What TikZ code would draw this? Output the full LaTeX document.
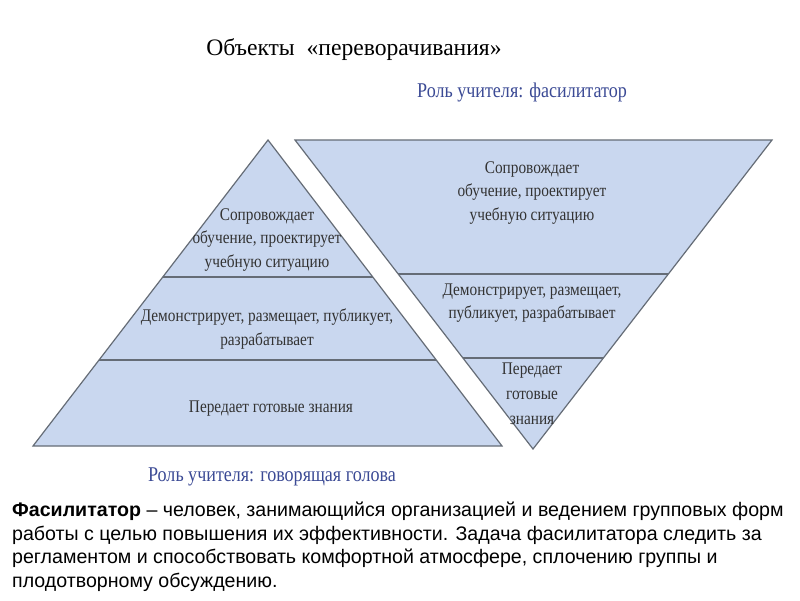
\documentclass[tikz,border=0pt]{standalone}
\usepackage{fontspec}
\setmainfont{Liberation Serif}
\newfontfamily\pyrfont[FakeStretch=0.86]{Liberation Serif}
\newfontfamily\bodysans{Liberation Sans}
\usetikzlibrary{calc}
\definecolor{pyrFill}{HTML}{C9D7EF}
\definecolor{pyrEdge}{HTML}{656C76}
\definecolor{pyrText}{HTML}{333333}
\definecolor{roleBlue}{HTML}{3B4A95}
\tikzset{
  layer/.style={fill=pyrFill,draw=pyrEdge,line width=1.2pt},
  divider/.style={draw=pyrEdge,line width=1.6pt},
  layertext/.style={font=\pyrfont\fontsize{17.8}{23.5}\selectfont,text=pyrText,align=center,inner sep=0pt},
  roletitle/.style={font=\pyrfont\fontsize{21}{24}\selectfont,text=roleBlue,inner sep=0pt},
}

\begin{document}
\begin{tikzpicture}[x=1pt,y=-1pt]
\useasboundingbox[fill=white] (0,0) rectangle (800,600);
\node[font=\fontsize{23.6}{28}\selectfont,inner sep=0pt] (title) at (354,50) {Объекты\hspace{0.5em}«переворачивания»};
% Пирамида: говорящая голова
\coordinate (A) at (268,140);
\coordinate (BL) at (33,446);
\coordinate (BR) at (502,446);
\draw[layer] (A) -- (BL) -- (BR) -- cycle;
\draw[divider] ($(A)!0.448!(BL)$) -- ($(A)!0.448!(BR)$);
\draw[divider] ($(A)!0.719!(BL)$) -- ($(A)!0.719!(BR)$);
\node[layertext] (lTop) at (267,240) {Сопровождает\\обучение, проектирует\\учебную ситуацию};
\node[layertext] (lMid) at (267,329) {Демонстрирует, размещает, публикует,\\разрабатывает};
\node[layertext] (lLow) at (271,409) {Передает готовые знания};
\node[roletitle] (lRole) at (272,477) {Роль учителя: говорящая голова};
% Перевёрнутая пирамида: фасилитатор
\coordinate (TL) at (295,140);
\coordinate (TR) at (772,140);
\coordinate (B) at (533,449);
\draw[layer] (TL) -- (TR) -- (B) -- cycle;
\draw[divider] ($(TL)!0.434!(B)$) -- ($(TR)!0.434!(B)$);
\draw[divider] ($(TL)!0.706!(B)$) -- ($(TR)!0.706!(B)$);
\node[layertext] (rTop) at (532,193) {Сопровождает\\обучение, проектирует\\учебную ситуацию};
\node[layertext] (rMid) at (532,303) {Демонстрирует, размещает,\\публикует, разрабатывает};
\node[layertext,font=\pyrfont\fontsize{17.8}{25}\selectfont] (rLow) at (532,394) {Передает\\готовые\\знания};
\node[roletitle] (rRole) at (522,92) {Роль учителя: фасилитатор};
% Определение
\node[font=\bodysans\fontsize{19.6}{23.6}\selectfont,align=left,anchor=north west,inner sep=0pt] (defn) at (12,502)
  {\textbf{Фасилитатор} – человек, занимающийся организацией и ведением групповых форм\\
   работы с целью повышения их эффективности. Задача фасилитатора следить за\\
   регламентом и способствовать комфортной атмосфере, сплочению группы и\\
   плодотворному обсуждению.};
\end{tikzpicture}
\end{document}
